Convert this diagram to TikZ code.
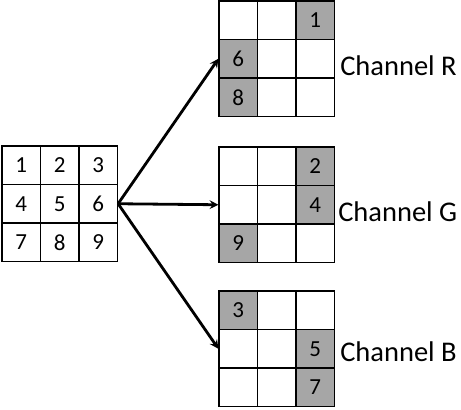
\documentclass[tikz,border=0pt]{standalone}
\usepackage{fontspec}
\setmainfont{Carlito}[Numbers=Lining]
\usetikzlibrary{arrows,positioning}
\definecolor{cellgray}{RGB}{166,166,166}

\begin{document}
\begin{tikzpicture}[x=1pt, y=-1pt]
  \tikzstyle{cell} = [rectangle, draw, line width=1.2pt, minimum size=38.5pt, inner sep=0pt, font=\fontsize{23}{27}\selectfont]
  \tikzstyle{hit} = [cell, fill=cellgray]
  \tikzstyle{arrow} = [line width=2.8pt,->,>=stealth]
  \tikzstyle{chname} = [inner sep=0pt, font=\fontsize{28.5}{34}\selectfont]
  \useasboundingbox (0,0) rectangle (461,410);
  % input image
  \foreach \n in {1,...,9} {
    \pgfmathtruncatemacro{\r}{(\n-1)/3}
    \pgfmathtruncatemacro{\c}{mod(\n-1,3)}
    \node [cell] (in\n) at (21.25+38.5*\c, 165.25+38.5*\r) {\n};
  }
  % channel grids
  \foreach \g/\top in {R/1, G/147, B/291} {
    \foreach \k in {1,...,9} {
      \pgfmathtruncatemacro{\r}{(\k-1)/3}
      \pgfmathtruncatemacro{\c}{mod(\k-1,3)}
      \node [cell] (\g\k) at (238.25+38.5*\c, \top+19.25+38.5*\r) {};
    }
  }
  \foreach \g/\k/\v in {R/3/1, R/4/6, R/7/8, G/3/2, G/6/4, G/7/9, B/1/3, B/6/5, B/9/7}
    \node [hit] (h\g\k) at (\g\k) {\v};
  \draw [arrow] (in6.east) -- (R4.west);
  \draw [arrow] (in6.east) -- (G4.west);
  \draw [arrow] (in6.east) -- (B4.west);
  \node [chname, right=5pt of R6, yshift=-6.5pt] (chR) {Channel R};
  \node [chname, right=3pt of G6, yshift=-7pt] (chG) {Channel G};
  \node [chname, right=5pt of B6, yshift=-3pt] (chB) {Channel B};
\end{tikzpicture}
\end{document}
